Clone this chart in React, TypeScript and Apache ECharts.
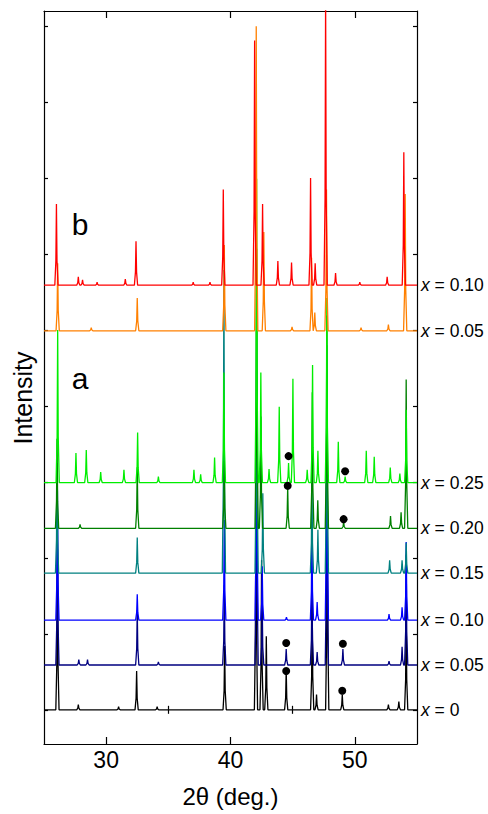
import { useEffect, useRef } from "react";
import * as echarts from "echarts";

const FONT = "'Liberation Sans', Arial, Helvetica, sans-serif";

// composition of each pattern, bottom (set a) to top (set b)
const compositions = ["0", "0.05", "0.10", "0.15", "0.20", "0.25", "0.05", "0.10"];
const offsets = [0, 59, 118, 180, 239, 299, 499, 559];
const colors = ["#000000", "#000080", "#0000ff", "#008080", "#008000", "#00ee00", "#ff8000", "#ff0000"];

// reflections: [2theta, intensity above baseline]
const peaksA000 = [
  [26.08, 211], [27.76, 7], [31.0, 4], [32.45, 51], [34.1, 4], [39.53, 84], [42.05, 329], [42.5, 197],
  [42.88, 97], [44.48, 53], [46.57, 145], [46.92, 20], [47.78, 340], [48.99, 20], [52.7, 7], [53.54, 11], [54.13, 132],
];
const peaksA005 = [
  [26.08, 197], [27.8, 7], [28.5, 7], [32.5, 72], [34.2, 4], [39.5, 105], [42.1, 342], [42.55, 79], [44.48, 21],
  [46.55, 109], [46.97, 17], [47.75, 340], [49.04, 21], [52.75, 5], [53.8, 24], [54.13, 145],
];
const peaksA010 = [
  [26.08, 171], [32.5, 34], [39.5, 132], [42.1, 329], [42.55, 71], [44.5, 4], [46.55, 126], [46.97, 24],
  [47.75, 330], [52.75, 8], [53.8, 17], [54.13, 103],
];
const peaksA015 = [
  [26.05, 145], [32.5, 47], [39.47, 399], [42.1, 368], [42.6, 105], [46.55, 132], [47.03, 57], [47.75, 300],
  [52.8, 17], [53.8, 17], [54.13, 40],
];
const peaksA020 = [
  [26.05, 118], [27.9, 5], [32.5, 80], [39.5, 89], [42.1, 368], [42.45, 147], [44.6, 54], [46.58, 179],
  [47.02, 37], [47.75, 280], [49.1, 8], [52.87, 16], [53.72, 21], [54.13, 196],
];
const peaksA025 = [
  [26.1, 201], [27.57, 39], [28.4, 43], [29.56, 14], [31.43, 17], [32.53, 66], [34.2, 8], [37.06, 17],
  [37.6, 11], [38.72, 33], [39.47, 145], [42.1, 400], [42.44, 145], [43.1, 18], [43.92, 100], [44.67, 26],
  [45.02, 137], [46.17, 17], [46.6, 155], [47.03, 42], [47.75, 243], [48.67, 54], [49.22, 8], [50.92, 42],
  [51.56, 34], [52.85, 20], [53.62, 12], [54.13, 96],
];
const peaksB005 = [
  [26.1, 89], [28.8, 4], [32.5, 43], [39.5, 113], [42.07, 401], [42.68, 130], [44.95, 5], [46.52, 96],
  [46.78, 24], [47.72, 186], [50.5, 4], [52.7, 8], [54.05, 180],
];
const peaksB010 = [
  [26.0, 107], [27.76, 11], [28.1, 7], [29.27, 4], [31.54, 8], [32.4, 58], [37.0, 4], [38.35, 4], [39.42, 126],
  [41.94, 322], [42.58, 107], [43.81, 32], [44.91, 30], [46.44, 141], [46.81, 29], [47.65, 382], [48.45, 16],
  [50.4, 4], [52.6, 11], [53.94, 175],
];
const patterns = [peaksA000, peaksA005, peaksA010, peaksA015, peaksA020, peaksA025, peaksB005, peaksB010];

// impurity reflections marked with a dot
const dotX = [44.48, 44.48, 44.6, 44.67, 48.99, 49.04, 49.1, 49.22];
const dotY = [51, 88, 295, 334, 25, 87, 251, 314];

const yTicks = [0, 100, 200, 300, 400, 500, 600, 700, 800, 900];

function trace(peaks: number[][], base: number) {
  const pts: number[][] = [[25, base]];
  for (const [p, h] of peaks) {
    pts.push([p - 0.13, base], [p - 0.045, base + h * 0.3], [p, base + h], [p + 0.045, base + h * 0.3], [p + 0.13, base]);
  }
  pts.push([55, base]);
  return pts;
}

const frame = { show: true, onZero: false, lineStyle: { color: "#000", width: 1.2 } };
const tick = (len: number, values: number[]) => ({
  show: true, inside: true, length: len, customValues: values, lineStyle: { color: "#000", width: 1.2 },
});

export default function App() {
  const chartRef = useRef<HTMLDivElement>(null);

  useEffect(() => {
    if (!chartRef.current) return;
    const chart = echarts.init(chartRef.current, null, { renderer: "svg" });

    const lines = patterns.map((pk, i) => ({
      type: "line",
      data: trace(pk, offsets[i]),
      symbol: "none",
      lineStyle: { color: colors[i], width: 1.3 },
      itemStyle: { color: colors[i] },
      endLabel: {
        show: true,
        distance: 4,
        formatter: `{i|x} = ${compositions[i]}`,
        color: "#000",
        fontSize: 17.5,
        fontFamily: FONT,
        rich: { i: { fontStyle: "italic", fontSize: 17.5, fontFamily: FONT, color: "#000" } },
      },
    }));

    const xBase = { type: "value", min: 25, max: 55, splitLine: { show: false } };

    chart.setOption({
      animation: false,
      backgroundColor: "#fff",
      grid: { left: 44, right: 71, top: 11, bottom: 70 },
      xAxis: [
        {
          ...xBase, position: "bottom", axisLine: frame, axisTick: tick(7, [30, 40, 50]),
          axisLabel: { customValues: [30, 40, 50], fontSize: 23, margin: 4, color: "#000", fontFamily: FONT },
          name: "2θ (deg.)", nameLocation: "middle", nameGap: 40,
          nameTextStyle: { fontSize: 24, color: "#000", fontFamily: FONT },
        },
        { ...xBase, position: "bottom", axisLine: { show: false }, axisTick: tick(4, [35, 45]), axisLabel: { show: false } },
        { ...xBase, position: "top", axisLine: frame, axisTick: tick(7, [30, 40, 50]), axisLabel: { show: false } },
        { ...xBase, position: "top", axisLine: { show: false }, axisTick: tick(4, [35, 45]), axisLabel: { show: false } },
      ],
      yAxis: [
        {
          type: "value", min: -45, max: 920, position: "left", splitLine: { show: false },
          axisLine: frame, axisTick: tick(4, yTicks), axisLabel: { show: false },
        },
        {
          type: "value", min: -45, max: 920, position: "right", splitLine: { show: false },
          axisLine: frame, axisTick: tick(4, yTicks), axisLabel: { show: false },
        },
      ],
      graphic: [
        {
          type: "text", x: 23, y: 398, rotation: Math.PI / 2,
          style: { text: "Intensity", fontSize: 25, fontFamily: FONT, fill: "#000", align: "center", verticalAlign: "middle" },
        },
        { type: "text", x: 80, y: 224, style: { text: "b", fontSize: 30, fontFamily: FONT, fill: "#000", align: "center", verticalAlign: "middle" } },
        { type: "text", x: 80, y: 378, style: { text: "a", fontSize: 30, fontFamily: FONT, fill: "#000", align: "center", verticalAlign: "middle" } },
      ],
      series: [
        ...lines,
        {
          type: "scatter",
          data: dotX.map((x, i) => [x, dotY[i]]),
          symbolSize: 8,
          itemStyle: { color: "#000", opacity: 1 },
          z: 5,
        },
      ],
    });

    return () => chart.dispose();
  }, []);

  return <div ref={chartRef} style={{ position: "absolute", left: 0, top: 0, width: 488, height: 814 }} />;
}
